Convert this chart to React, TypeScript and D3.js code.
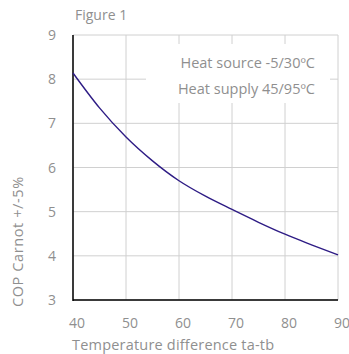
import React from 'react';
import * as d3 from 'd3';

// Data
const tempDiff = [40, 45, 50, 55, 60, 65, 70, 75, 80, 85, 90];
const copValues = [8.14, 7.35, 6.69, 6.15, 5.7, 5.35, 5.05, 4.76, 4.49, 4.25, 4.02];
const xTicks = [40, 50, 60, 70, 80, 90];
const yTicks = [3, 4, 5, 6, 7, 8, 9];
const noteLines = ['Heat source -5/30ºC', 'Heat supply 45/95ºC'];

const W = 349;
const H = 354;
const margin = { top: 35, right: 11, bottom: 54, left: 73 };
const textColor = '#8f8f8f';
const font = '"Open Sans", "DejaVu Sans", sans-serif';

const App = () => {
  const x = d3.scaleLinear().domain([40, 90]).range([margin.left, W - margin.right]);
  const y = d3.scaleLinear().domain([3, 9]).range([H - margin.bottom, margin.top]);

  const line = d3
    .line<number>()
    .x((d, i) => x(tempDiff[i]))
    .y(d => y(d))
    .curve(d3.curveMonotoneX);

  const x0 = x(40);
  const x1 = x(90);
  const y0 = y(3);
  const y1 = y(9);

  return (
    <svg
      width={W}
      height={H}
      style={{ position: 'absolute', left: 0, top: 0, background: '#fff' }}
      fontFamily={font}
    >
      <text x={75} y={20} fontSize={14} fill={textColor}>
        Figure 1
      </text>

      {/* grid */}
      {xTicks.map(t => (
        <line key={'gx' + t} x1={x(t)} x2={x(t)} y1={y0} y2={y1} stroke="#d0d0d0" strokeWidth={1} />
      ))}
      {yTicks.map(t => (
        <line key={'gy' + t} x1={x0} x2={x1} y1={y(t)} y2={y(t)} stroke="#d0d0d0" strokeWidth={1} />
      ))}

      {/* white box behind the note */}
      <rect x={146} y={44} width={184} height={59} fill="#fff" />
      {noteLines.map((s, i) => (
        <text key={s} x={315} y={68 + i * 26} fontSize={14.5} fill={textColor} textAnchor="end">
          {s}
        </text>
      ))}

      {/* axes */}
      <line x1={x0} x2={x0} y1={y1} y2={y0 + 1} stroke="#000" strokeWidth={1.5} />
      <line x1={x0} x2={x1} y1={y0} y2={y0} stroke="#000" strokeWidth={1.5} />

      {yTicks.map(t => (
        <text key={'ty' + t} x={56} y={y(t)} dy="0.36em" fontSize={14} fill={textColor} textAnchor="end">
          {t}
        </text>
      ))}
      {xTicks.map(t => (
        <text key={'tx' + t} x={x(t) + 4} y={328} fontSize={14} fill={textColor} textAnchor="middle">
          {t}
        </text>
      ))}

      <path d={line(copValues) || ''} fill="none" stroke="#2e1c85" strokeWidth={1.4} />

      <text x={72} y={350} fontSize={14.5} fill={textColor} letterSpacing={0.2}>
        Temperature difference ta-tb
      </text>
      <text
        transform={`translate(18,${307}) rotate(-90)`}
        fontSize={14.5}
        fill={textColor}
        dy="0.35em"
        letterSpacing={0.6}
      >
        COP Carnot +/-5%
      </text>
    </svg>
  );
};

export default App;
